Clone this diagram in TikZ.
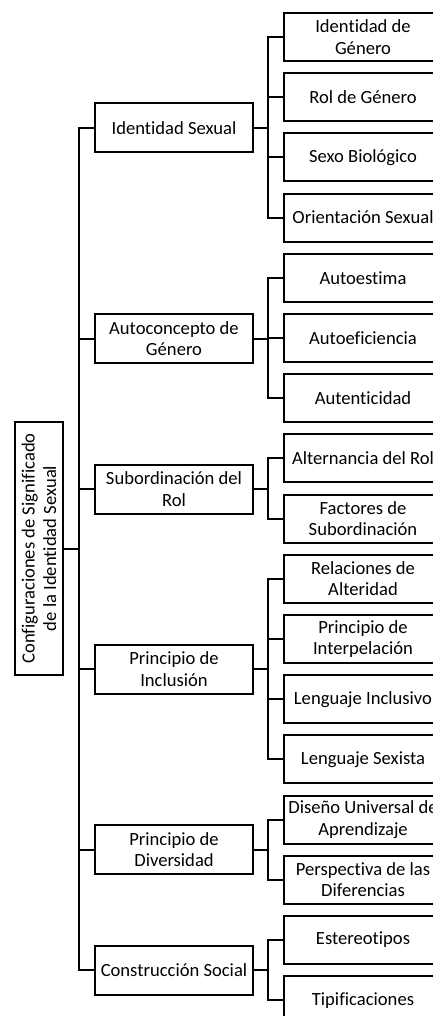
\documentclass[tikz,border=0pt]{standalone}
\usepackage{fontspec}
\setmainfont{Carlito}[Ligatures=NoCommon]
\begin{document}
\begin{tikzpicture}[x=1pt,y=-1pt,
  box/.style={draw=black, line width=2pt, fill=white, inner sep=0pt, align=center,
    font=\fontsize{18.6}{21.5}\selectfont},
  midbox/.style={box, minimum width=158pt, minimum height=49pt},
  leafbox/.style={box, minimum width=158pt, minimum height=48pt},
  rootbox/.style={box, rotate=90, minimum width=253pt, minimum height=48pt},
  conn/.style={line width=2pt, line join=miter}]
\useasboundingbox (0,0) rectangle (433,1016);
\begin{scope}
\clip (0,0) rectangle (433,1016);
% bus coordinates
\coordinate (mainbus) at (79,0);
\coordinate (leafbus) at (268,0);
% root
\node[rootbox] (root) at (39,548.5) {Configuraciones de Significado\\de la Identidad Sexual};
% middle
\node[midbox] (m1) at (174,128) {Identidad Sexual};
\node[midbox] (m2) at (174,338.5) {Autoconcepto de\\Género};
\node[midbox] (m3) at (174,489) {Subordinación del\\Rol};
\node[midbox] (m4) at (174,669) {Principio de\\Inclusión};
\node[midbox] (m5) at (174,849.5) {Principio de\\Diversidad};
\node[midbox] (m6) at (174,970) {Construcción Social};
% leaves
\node[leafbox] (l1) at (363,37) {Identidad de\\Género};
\node[leafbox] (l2) at (363,97.2) {Rol de Género};
\node[leafbox] (l3) at (363,157.4) {Sexo Biológico};
\node[leafbox] (l4) at (363,217.6) {Orientación Sexual};
\node[leafbox] (l5) at (363,277.8) {Autoestima};
\node[leafbox] (l6) at (363,338) {Autoeficiencia};
\node[leafbox] (l7) at (363,398.2) {Autenticidad};
\node[leafbox] (l8) at (363,458.4) {Alternancia del Rol};
\node[leafbox] (l9) at (363,518.6) {Factores de\\Subordinación};
\node[leafbox] (l10) at (363,578.8) {Relaciones de\\Alteridad};
\node[leafbox] (l11) at (363,639) {Principio de\\Interpelación};
\node[leafbox] (l12) at (363,699.2) {Lenguaje Inclusivo};
\node[leafbox] (l13) at (363,759.4) {Lenguaje Sexista};
\node[leafbox] (l14) at (363,819.6) {Diseño Universal de\\Aprendizaje};
\node[leafbox] (l15) at (363,879.8) {Perspectiva de las\\Diferencias};
\node[leafbox] (l16) at (363,940) {Estereotipos};
\node[leafbox] (l17) at (363,1000.2) {Tipificaciones};
% root to middle
\foreach \m in {m1,m2,m3,m4,m5,m6}
  \draw[conn] (root.south) -- (root.south -| mainbus) |- (\m.west);
% middle to leaves
\foreach \m/\l in {m1/l1,m1/l2,m1/l3,m1/l4,m2/l5,m2/l6,m2/l7,m3/l8,m3/l9,
                   m4/l10,m4/l11,m4/l12,m4/l13,m5/l14,m5/l15,m6/l16,m6/l17}
  \draw[conn] (\m.east) -- (\m.east -| leafbus) |- (\l.west);
\end{scope}
\end{tikzpicture}
\end{document}
